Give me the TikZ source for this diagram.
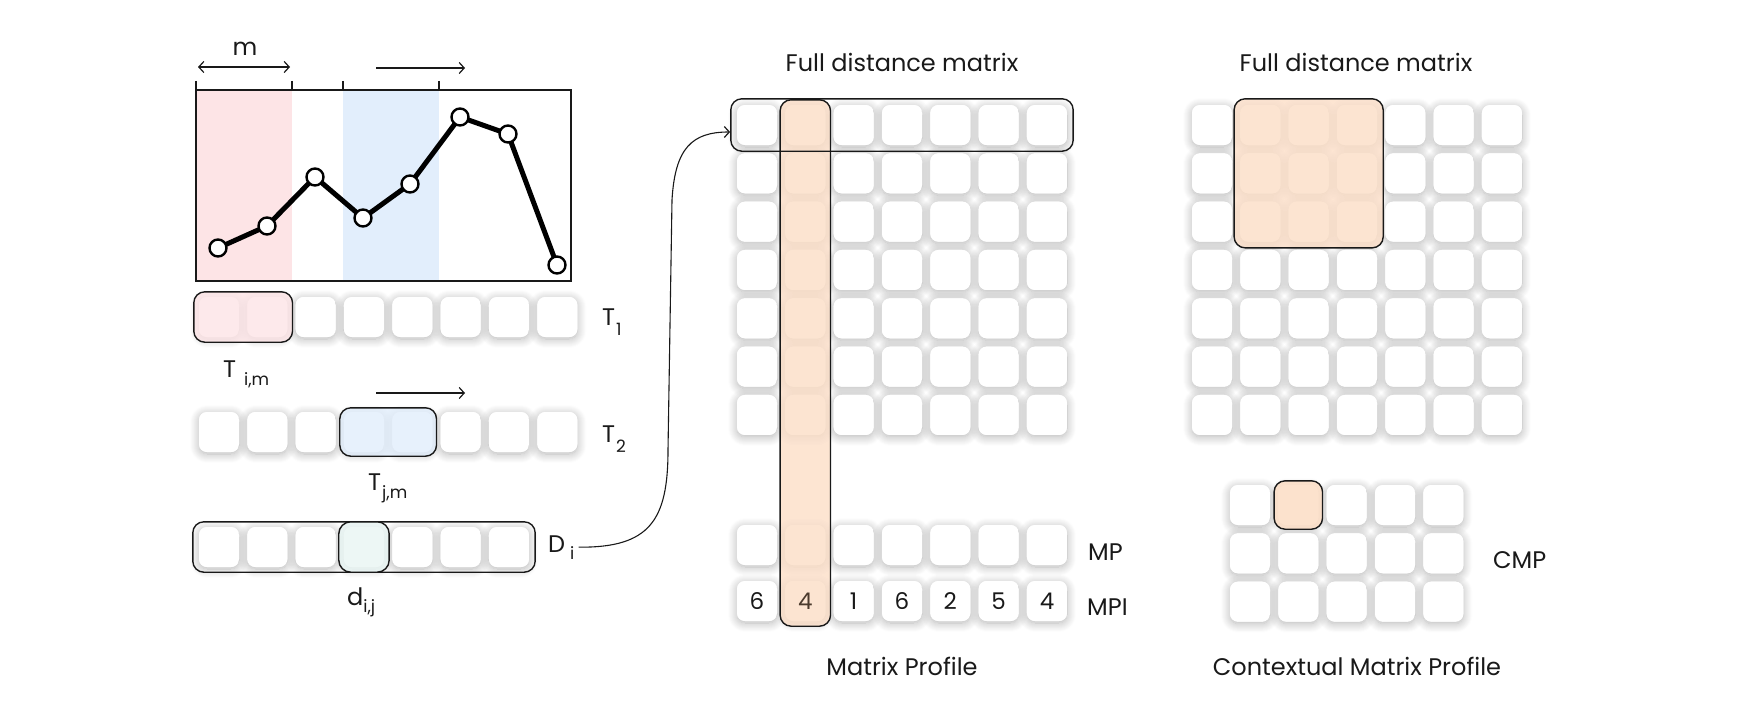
\documentclass[tikz,border=0pt]{standalone}
\usepackage{fontspec}
\setmainfont{Poppins}
\usetikzlibrary{arrows.meta,fit,shadows.blur}
\definecolor{pinkF}{RGB}{253,228,230}
\definecolor{blueF}{RGB}{226,238,252}
\definecolor{greenF}{RGB}{234,246,244}
\definecolor{orangeF}{RGB}{252,223,200}
\definecolor{ink}{RGB}{25,25,25}
\definecolor{brownT}{RGB}{75,58,45}
\tikzset{
  cell/.style={rectangle, rounded corners=8pt, minimum width=40pt, minimum height=40pt,
    inner sep=0pt, fill=white, font=\fontsize{23}{23}\selectfont},
  shad/.style={fill=white, rounded corners=8pt,
    blur shadow={shadow xshift=0pt, shadow yshift=-2pt, shadow blur radius=9pt,
      shadow opacity=30, shadow blur steps=10}},
  hl/.style={draw=ink, line width=1.4pt, rounded corners=11pt, inner sep=5pt},
  lbl/.style={font=\fontsize{24}{28}\selectfont, inner sep=0pt, text=ink},
  thin arrow/.style={line width=1.2pt, draw=ink},
  tip/.tip={Straight Barb[length=5pt,width=11pt,line width=1.2pt]},
  series/.style={line width=5pt, line join=round, draw=black},
  dot/.style={circle, draw=black, line width=2.4pt, fill=white, minimum size=17pt, inner sep=0pt},
}
\newcommand{\subs}[2]{\raisebox{-#1}{\fontsize{17}{17}\selectfont #2}}
\newcommand{\cellshadow}[2]{\path[shad] ({#1-20},{#2-20}) rectangle ({#1+20},{#2+20});}
\begin{document}
\begin{tikzpicture}[x=1pt,y=-1pt]
\useasboundingbox (0,0) rectangle (1743,717);

% ---------- shadows under all cells ----------
\foreach \k in {1,...,8} {\cellshadow{219+(\k-1)*48.33}{317} \cellshadow{219+(\k-1)*48.33}{432}}
\foreach \k in {1,...,7} {\cellshadow{219+(\k-1)*48.33}{547}}
\foreach \r in {1,...,7} \foreach \c in {1,...,7} {
  \cellshadow{757+(\c-1)*48.33}{125+(\r-1)*48.33}
  \cellshadow{1212+(\c-1)*48.33}{125+(\r-1)*48.33}}
\foreach \c in {1,...,7} {\cellshadow{757+(\c-1)*48.33}{545} \cellshadow{757+(\c-1)*48.33}{601}}
\foreach \r in {1,...,3} \foreach \c in {1,...,5} {\cellshadow{1250+(\c-1)*48.33}{505+(\r-1)*48.33}}

% ---------- time series chart ----------
\fill[pinkF] (196,90) rectangle (292,281);
\fill[blueF] (343,90) rectangle (439,281);
\draw[ink, line width=1.4pt] (196,90) rectangle (571,281);
\foreach \x in {196,292,343,439} \draw[ink, line width=1.2pt] (\x,81) -- (\x,90);
\coordinate (ma) at (198,67); \coordinate (mb) at (290,67);
\draw[thin arrow, tip-tip] (ma) -- (mb);
\node[lbl, anchor=base] (mlab) at (245,56) {m};
\coordinate (sa) at (376,68); \coordinate (sb) at (465,68);
\draw[thin arrow, -tip] (sa) -- (sb);

\coordinate (c1) at (218,248);
\coordinate (c2) at (267,226);
\coordinate (c3) at (315,177);
\coordinate (c4) at (363,218);
\coordinate (c5) at (410,184);
\coordinate (c6) at (460,117);
\coordinate (c7) at (508,134);
\coordinate (c8) at (557,265);
\draw[series] (c1) -- (c2) -- (c3) -- (c4) -- (c5) -- (c6) -- (c7) -- (c8);
\foreach \i in {1,...,8} \node[dot] (p\i) at (c\i) {};

% ---------- T1 row ----------
\foreach \k in {1,...,8} \node[cell] (A-\k) at ({219+(\k-1)*48.33},317) {};
\node[hl, fill=pinkF, fill opacity=0.8, fit=(A-1)(A-2)] (Tim) {};
\node[lbl, anchor=base west] (T1) at (602,325) {T\hspace{1pt}\subs{10pt}{1}};
\node[lbl, anchor=base west] (Timlab) at (223,377) {T\hspace{8pt}\subs{8pt}{i,m}};

% ---------- T2 row ----------
\coordinate (ta) at (376,393); \coordinate (tb) at (465,393);
\draw[thin arrow, -tip] (ta) -- (tb);
\foreach \k in {1,...,8} \node[cell] (B-\k) at ({219+(\k-1)*48.33},432) {};
\node[hl, fill=blueF, fill opacity=0.8, inner sep=4pt, fit=(B-4)(B-5)] (Tjm) {};
\node[lbl, anchor=base west] (T2) at (602,442) {T\hspace{1pt}\subs{10pt}{2}};
\node[lbl, anchor=base west] (Tjmlab) at (368,490) {T\hspace{1pt}\subs{8pt}{j,m}};

% ---------- D row ----------
\foreach \k in {1,...,7} \node[cell] (D-\k) at ({219+(\k-1)*48.33},547) {};
\node[hl, fit=(D-1)(D-7), inner xsep=6pt, inner ysep=5pt] (Drow) {};
\node[hl, fill=greenF, fill opacity=0.82, rounded corners=12pt, fit=(D-4)] (dij) {};
\node[lbl, anchor=base west] (dlab) at (347,605) {d\subs{7pt}{i,j}};
\node[lbl, anchor=base west, inner xsep=4pt] (Di) at (544,552) {D\hspace{5pt}\subs{7pt}{i}};

% ---------- middle matrix ----------
\node[lbl, anchor=base] (title1) at (902,72) {Full distance matrix};
\foreach \r in {1,...,7}
  \foreach \c in {1,...,7}
    \node[cell] (M-\r-\c) at ({757+(\c-1)*48.33},{125+(\r-1)*48.33}) {};
\foreach \c in {1,...,7} \node[cell] (MP-\c) at ({757+(\c-1)*48.33},545) {};
\foreach \c/\v in {1/6,3/1,4/6,5/2,6/5,7/4}
  \node[cell, text=ink] (MPI-\c) at ({757+(\c-1)*48.33},601) {\v};
\node[cell] (MPI-2) at ({757+48.33},601) {};
\node[hl, fill=orangeF, fill opacity=0.82, fit=(M-1-2)(MPI-2)] (col) {};
\node[lbl, font=\fontsize{23}{23}\selectfont, text=brownT] (mpi2val) at (MPI-2) {4};
\node[hl, inner sep=6pt, fit=(M-1-1)(M-1-7)] (rowbox) {};
\node[lbl, anchor=base west] (MPlab) at (1088,560) {MP};
\node[lbl, anchor=base west] (MPIlab) at (1087,615) {MPI};
\node[lbl, anchor=base] (mpt) at (902,675) {Matrix Profile};

\draw[thin arrow, line width=1.1pt, -tip] (Di.east) .. controls (650,548) and (668,520) .. (668,450)
  -- (672,200) .. controls (675,148) and (692,132) .. ([yshift=-7pt]rowbox.west);

% ---------- right matrix ----------
\node[lbl, anchor=base] (title2) at (1356,72) {Full distance matrix};
\foreach \r in {1,...,7}
  \foreach \c in {1,...,7}
    \node[cell] (R-\r-\c) at ({1212+(\c-1)*48.33},{125+(\r-1)*48.33}) {};
\node[hl, fill=orangeF, fill opacity=0.82, inner xsep=6pt, inner ysep=6pt, fit=(R-1-2)(R-3-4)] (win) {};

% ---------- CMP ----------
\foreach \r in {1,...,3}
  \foreach \c in {1,...,5}
    \node[cell] (C-\r-\c) at ({1250+(\c-1)*48.33},{505+(\r-1)*48.33}) {};
\node[hl, fill=orangeF, fill opacity=0.9, inner sep=4pt, fit=(C-1-2)] (cmpcell) {};
\node[lbl, anchor=base west] (CMPlab) at (1493,568) {CMP};
\node[lbl, anchor=base] (cmpt) at (1357,675) {Contextual Matrix Profile};
\end{tikzpicture}
\end{document}
